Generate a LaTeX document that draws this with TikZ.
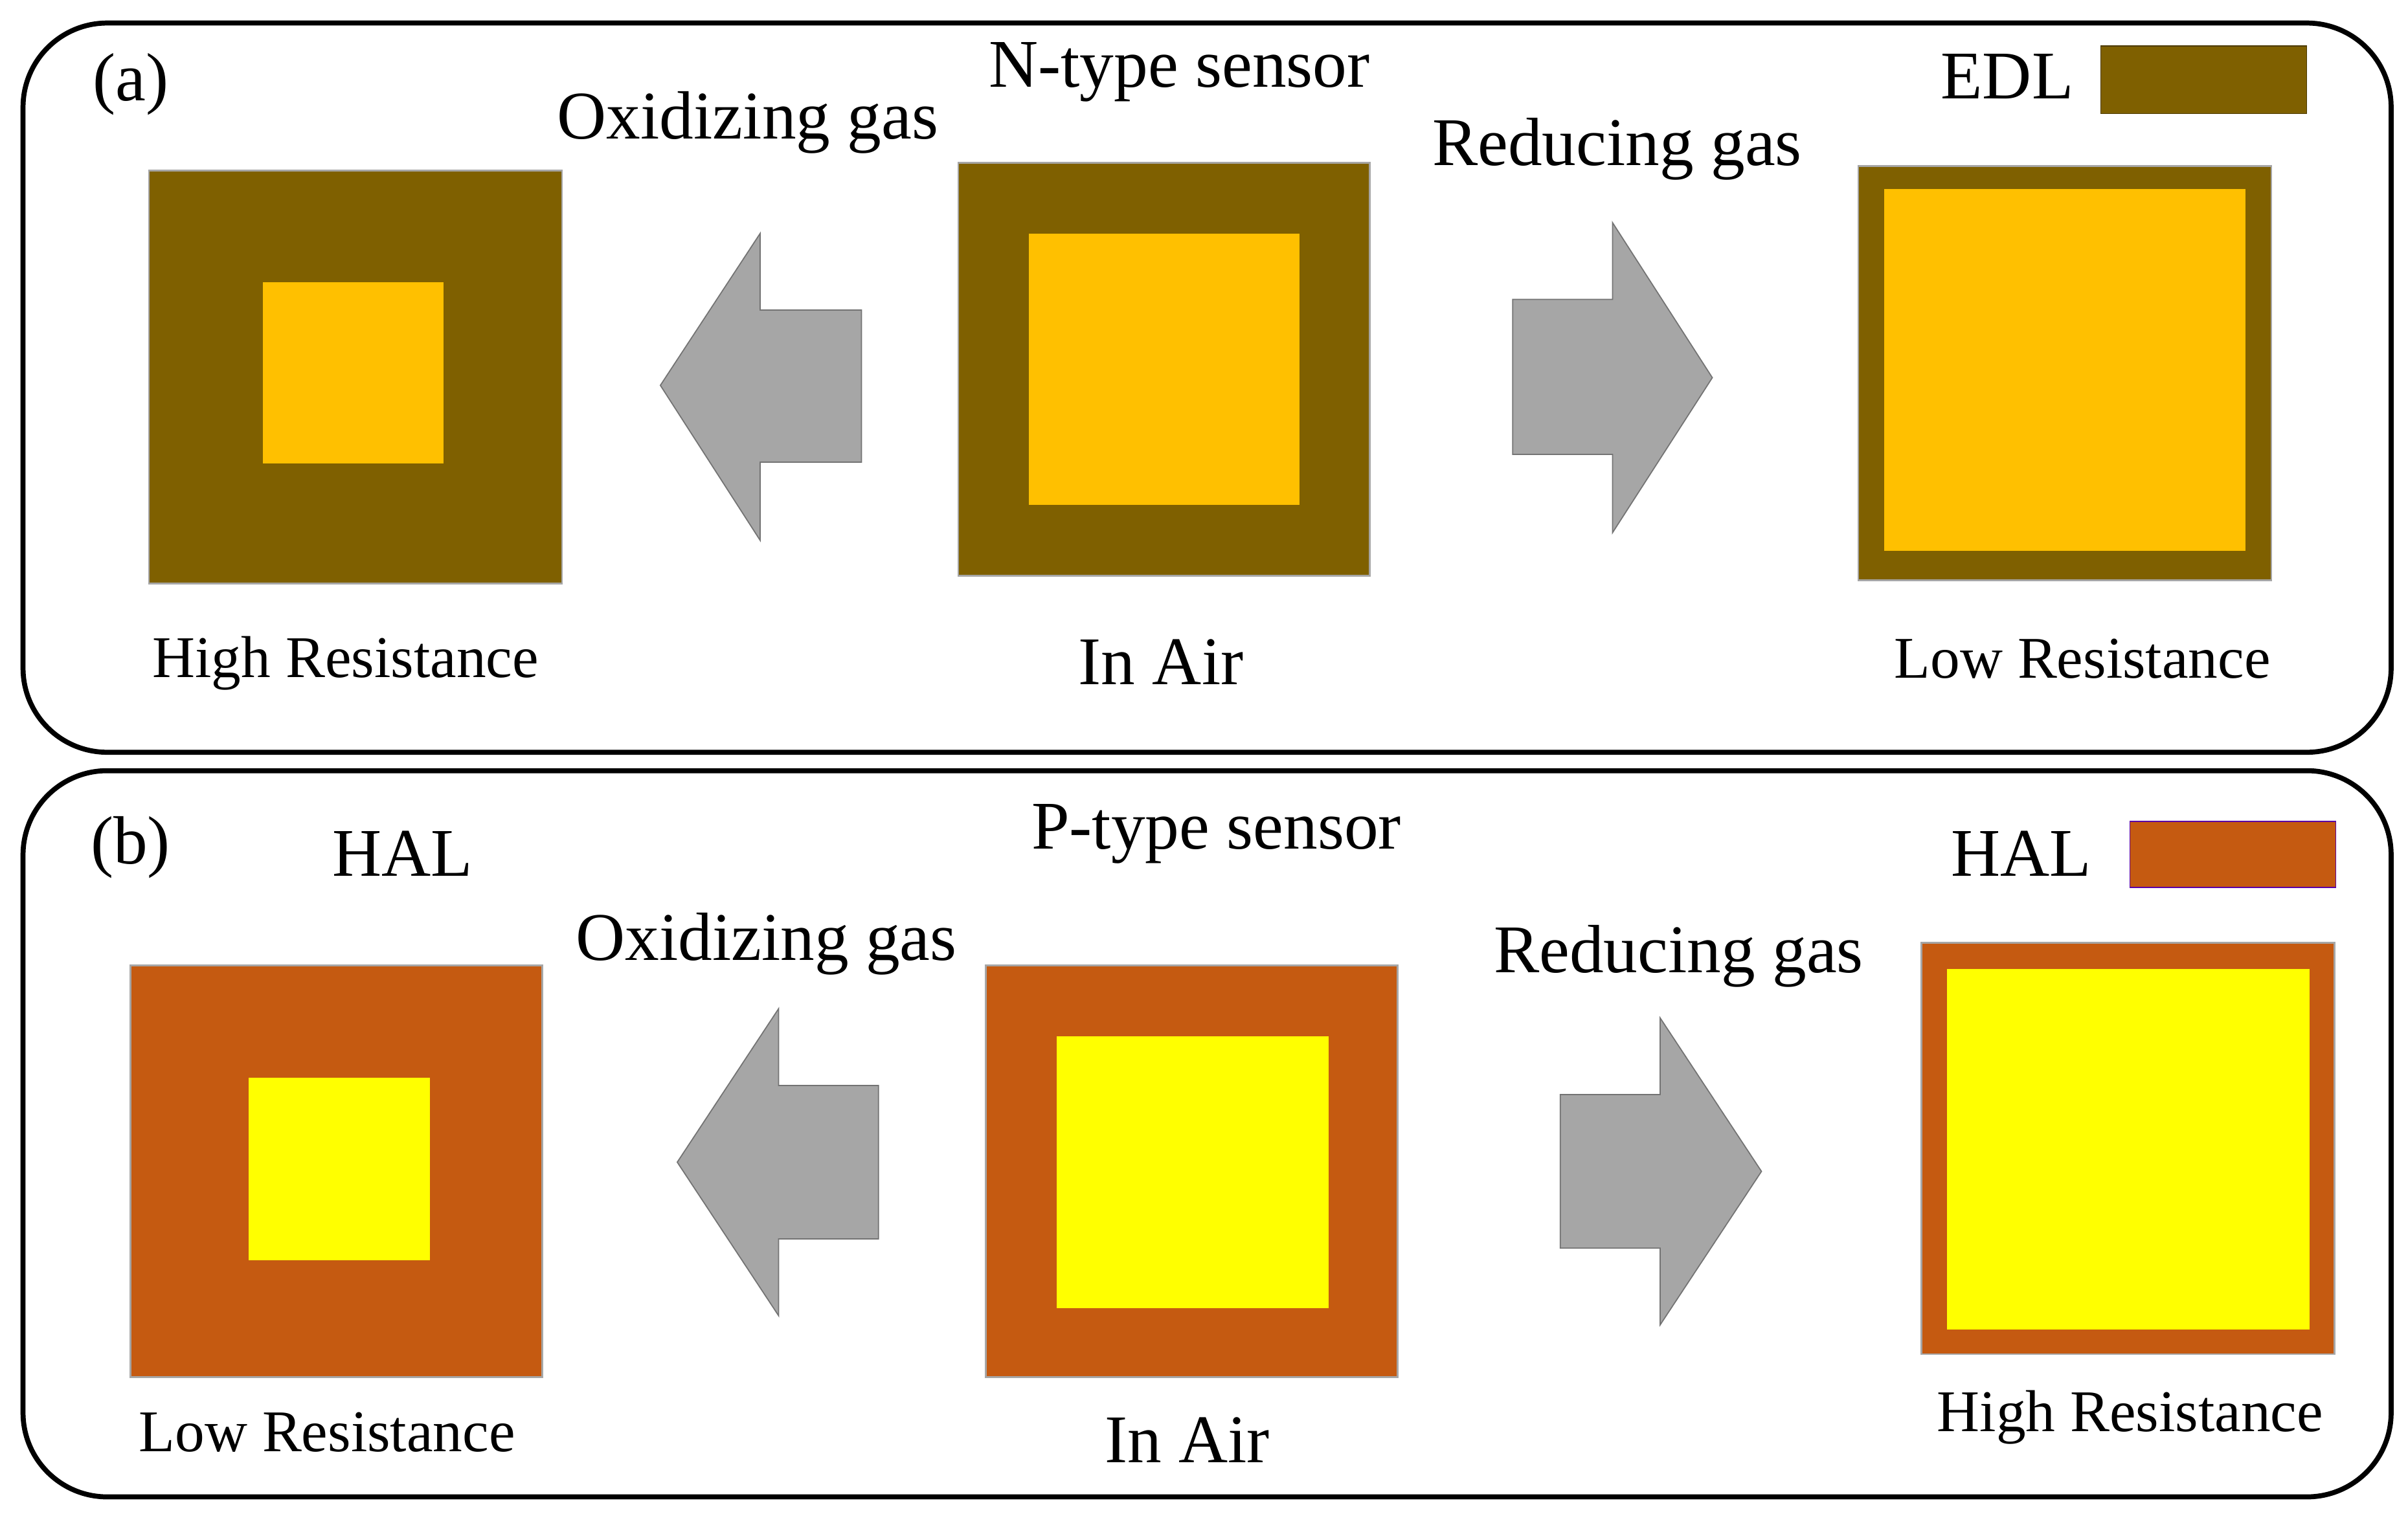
\documentclass[tikz,border=0pt]{standalone}
\usepackage{fontspec}
\setmainfont{Liberation Serif}
\begin{document}
\begin{tikzpicture}[x=0.02372cm,y=-0.02372cm,
  panel/.style={draw=black,line width=2.2pt,rounded corners=1.3cm},
  sq/.style={draw=gray!70,line width=0.8pt},
  arr/.style={fill=gray!70,draw=gray!90!black,line width=0.5pt},
  big/.style={font=\fontsize{30}{32}\selectfont},
  med/.style={font=\fontsize{26}{28}\selectfont}]
\definecolor{edl}{HTML}{7F6000}
\definecolor{core}{HTML}{FFC000}
\definecolor{hal}{HTML}{C55A11}
\definecolor{yel}{HTML}{FFFF00}
\useasboundingbox (0,0) rectangle (1568,986);
% panel a
\draw[panel] (15,15) rectangle (1557,490);
\node[big] (la) at (85,55) {(a)};
\node[big] (nt) at (768,47) {N-type sensor};
\node[big] (ox1) at (487,80) {Oxidizing gas};
\node[big] (rd1) at (1053,97) {Reducing gas};
\node[big] (edl) at (1307,50) {EDL};
\draw[fill=edl,draw=edl!60!black] (1368,30) rectangle (1502,74);
\draw[sq,fill=edl] (97,111) rectangle (366,380);
\fill[core] (171,184) rectangle (289,302);
\draw[sq,fill=edl] (624,106) rectangle (892,375);
\fill[core] (670,152) rectangle (846,329);
\draw[sq,fill=edl] (1210,108) rectangle (1479,378);
\fill[core] (1227,123) rectangle (1462,359);
\draw[arr] (430,251) -- (495,152) -- (495,202) -- (561,202) -- (561,301) -- (495,301) -- (495,352) -- cycle;
\draw[arr] (985,195) -- (1050,195) -- (1050,145) -- (1115,246) -- (1050,347) -- (1050,296) -- (985,296) -- cycle;
\node[med] (hr1) at (225,432) {High Resistance};
\node[big] (ia1) at (756,431) {In Air};
\node[med] (lr1) at (1356,429) {Low Resistance};
% panel b
\draw[panel] (15,502) rectangle (1557,975);
\node[big] (lb) at (85,552) {(b)};
\node[big] (hal1) at (262,556) {HAL};
\node[big] (pt) at (792,543) {P-type sensor};
\node[big] (ox2) at (499,615) {Oxidizing gas};
\node[big] (rd2) at (1093,623) {Reducing gas};
\node[big] (hal2) at (1316,556) {HAL};
\draw[fill=hal,draw=violet!70!blue] (1387,535) rectangle (1521,578);
\draw[sq,fill=hal] (85,629) rectangle (353,897);
\fill[yel] (162,702) rectangle (280,821);
\draw[sq,fill=hal] (642,629) rectangle (910,897);
\fill[yel] (688,675) rectangle (865,852);
\draw[sq,fill=hal] (1251,614) rectangle (1520,882);
\fill[yel] (1268,631) rectangle (1504,866);
\draw[arr] (441,757) -- (507,657) -- (507,707) -- (572,707) -- (572,807) -- (507,807) -- (507,857) -- cycle;
\draw[arr] (1016,713) -- (1081,713) -- (1081,663) -- (1147,763) -- (1081,863) -- (1081,813) -- (1016,813) -- cycle;
\node[med] (lr2) at (213,933) {Low Resistance};
\node[big] (ia2) at (773,938) {In Air};
\node[med] (hr2) at (1387,923) {High Resistance};
\end{tikzpicture}
\end{document}
